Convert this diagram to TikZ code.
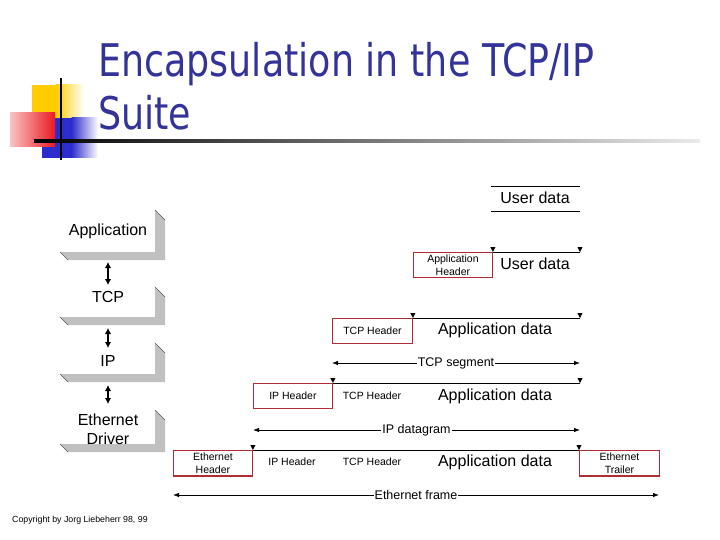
\documentclass[tikz,border=0pt]{standalone}
\usepackage{fontspec}
\setmainfont{Liberation Sans}
\newfontfamily\titlefont{DejaVu Sans}
\usetikzlibrary{arrows.meta}
\definecolor{titleblue}{RGB}{51,51,153}
\definecolor{hdrred}{RGB}{175,45,55}
\definecolor{stripgray}{RGB}{192,192,192}
\definecolor{logoyellow}{RGB}{255,204,0}
\definecolor{logoblue}{RGB}{45,45,205}
\definecolor{logored}{RGB}{235,25,35}
\definecolor{logopink}{RGB}{250,195,195}
\newcommand\layerbox[2]{%
  \fill[stripgray] (155,#1) -- (165,#1+10) -- (165,#2) -- (68,#2) -- (60,#2-8) -- (155,#2-8) -- cycle;
  \draw[black!65, line width=0.6pt] (155,#1) -- (165,#1+10) (60,#2-8) -- (68,#2);}
\newcommand\mk[1]{\fill (#1) -- ++(-2.6,-5) -- ++(5.2,0) -- cycle;}
\begin{document}
\begin{tikzpicture}[x=1pt,y=-1pt,
  big/.style={font=\fontsize{16}{19}\selectfont, inner sep=0pt, align=center},
  small/.style={font=\fontsize{10.5}{12.8}\selectfont, inner sep=0pt, align=center},
  lbl/.style={font=\fontsize{12.5}{14}\selectfont, fill=white, inner sep=1pt},
  hdr/.style={draw=hdrred, line width=0.9pt, fill=white, inner sep=0pt,
              minimum height=25pt, anchor=north west, align=center,
              font=\fontsize{10.5}{12.8}\selectfont},
  dimline/.style={line width=0.8pt, {Latex[length=6pt,width=4.5pt]}-{Latex[length=6pt,width=4.5pt]}},
  layerarrow/.style={line width=1.8pt, {Latex[length=6pt,width=6.5pt]}-{Latex[length=6pt,width=6.5pt]}},
  segline/.style={line width=0.8pt}]
\useasboundingbox (0,0) rectangle (720,540);

% ---- logo ----
\fill[logoyellow] (32,85) rectangle (56,119);
\shade[left color=logoyellow, right color=white] (55.5,85) rectangle (84,119);
\fill[logoblue] (42,118) rectangle (72,158);
\shade[left color=logoblue, right color=white] (71.5,118) rectangle (98,158);
\shade[left color=logopink, right color=logored] (10,113) rectangle (55,147);
\shade[left color=black, right color=black!8] (34,140) rectangle (700,142.2);
\draw[line width=1.8pt] (61,78) -- (61,160);

% ---- title ----
\node[anchor=base west, text=titleblue, inner sep=0pt,
      font=\titlefont\fontsize{45}{54}\selectfont] (t1) at (98,77)
      {\scalebox{0.81}[1]{Encapsulation in the TCP/IP}};
\node[anchor=base west, text=titleblue, inner sep=0pt,
      font=\titlefont\fontsize{45}{54}\selectfont] (t2) at (98,130)
      {\scalebox{0.81}[1]{Suite}};

% ---- protocol layers ----
\layerbox{210}{260}
\layerbox{287}{325}
\layerbox{343}{382}
\layerbox{410}{452}
\node[big] (lapp) at (108,231) {Application};
\node[big] (ltcp) at (108,297) {TCP};
\node[big] (lip)  at (108,361) {IP};
\node[big] (leth) at (108,429) {Ethernet\\Driver};
\coordinate (a1) at (108,262); \coordinate (a2) at (108,285);
\coordinate (b1) at (108,328); \coordinate (b2) at (108,348);
\coordinate (c1) at (108,385); \coordinate (c2) at (108,404);
\draw[layerarrow] (a1) -- (a2);
\draw[layerarrow] (b1) -- (b2);
\draw[layerarrow] (c1) -- (c2);

% ---- row 1: user data ----
\coordinate (u1a) at (491,186); \coordinate (u1b) at (580,186);
\coordinate (u2a) at (491,211); \coordinate (u2b) at (580,211);
\draw[segline] (u1a) -- (u1b);
\draw[segline] (u2a) -- (u2b);
\node[big] (ud1) at (535,198) {User data};

% ---- row 2: application ----
\node[hdr, minimum width=79pt] (ah) at (413,252) {Application\\Header};
\coordinate (r2e) at (580,252);
\draw[segline] (ah.north east) -- (r2e);
\mk{ah.north east} \mk{r2e}
\node[big] (ud2) at (535,264) {User data};

% ---- row 3: TCP ----
\node[hdr, minimum width=80pt] (th) at (332,318) {TCP Header};
\coordinate (r3e) at (580,318);
\draw[segline] (th.north east) -- (r3e);
\mk{th.north east} \mk{r3e}
\node[big] (ad3) at (495,330) {Application data};
\coordinate (tsa) at (332,363); \coordinate (tsb) at (580,363);
\draw[dimline] (tsa) -- node[lbl] (tsl) {TCP segment} (tsb);

% ---- row 4: IP ----
\node[hdr, minimum width=79pt] (ih) at (253,383) {IP Header};
\coordinate (r4e) at (580,383);
\draw[segline] (ih.north east) -- (r4e);
\mk{ih.north east} \mk{r4e}
\node[small] (th4) at (372,396) {TCP Header};
\node[big] (ad4) at (495,396) {Application data};
\coordinate (ida) at (253,430); \coordinate (idb) at (580,430);
\draw[dimline] (ida) -- node[lbl] (idl) {IP datagram} (idb);

% ---- row 5: Ethernet ----
\node[hdr, minimum width=79pt] (eh) at (173,450) {Ethernet\\Header};
\node[hdr, minimum width=80pt] (et) at (579,450) {Ethernet\\Trailer};
\draw[hdrred, line width=2pt] (eh.south west) -- (eh.south east);
\draw[hdrred, line width=2pt] (et.south west) -- (et.south east);
\draw[segline] (eh.north east) -- (et.north west);
\mk{eh.north east} \mk{et.north west}
\node[small] (ih5) at (292,462) {IP Header};
\node[small] (th5) at (372,462) {TCP Header};
\node[big] (ad5) at (495,462) {Application data};
\coordinate (efa) at (173,495); \coordinate (efb) at (659,495);
\draw[dimline] (efa) -- node[lbl] (efl) {Ethernet frame} (efb);

% ---- copyright ----
\node[anchor=base west, inner sep=0pt, font=\fontsize{8.8}{10}\selectfont] (copy) at (12,522)
  {Copyright by Jorg Liebeherr 98, 99};
\end{tikzpicture}
\end{document}
